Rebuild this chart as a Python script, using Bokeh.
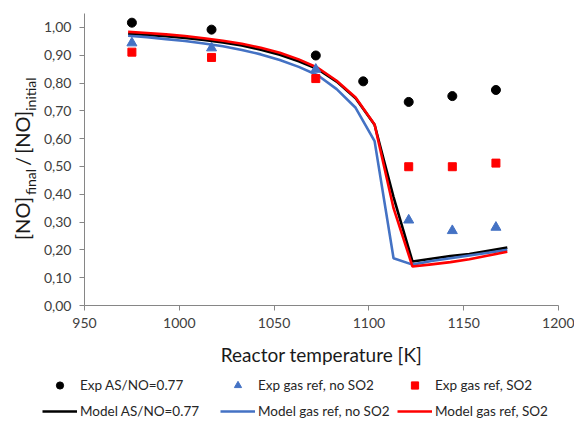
from bokeh.plotting import figure
from bokeh.models import Range1d, FixedTicker, Legend, LegendItem, Div
from bokeh.layouts import column, row
from bokeh.embed import file_html
from bokeh.resources import INLINE

# ---------------- data ----------------
exp_as_T = [975, 1017, 1072, 1097, 1121, 1144, 1167]
exp_as_val = [1.017, 0.992, 0.899, 0.806, 0.732, 0.753, 0.775]

exp_noso2_T = [975, 1017, 1072, 1121, 1144, 1167]
exp_noso2_val = [0.944, 0.926, 0.849, 0.307, 0.269, 0.281]

exp_so2_T = [975, 1017, 1072, 1121, 1144, 1167]
exp_so2_val = [0.911, 0.892, 0.816, 0.499, 0.499, 0.512]

model_T = [973, 983, 993, 1003, 1013, 1023, 1033, 1043, 1053, 1063, 1073,
           1083, 1093, 1103, 1113, 1123, 1133, 1143, 1153, 1163, 1173]
model_as = [0.977, 0.973, 0.968, 0.962, 0.955, 0.946, 0.935, 0.920, 0.902, 0.878, 0.850,
            0.805, 0.745, 0.650, 0.390, 0.158, 0.168, 0.178, 0.185, 0.197, 0.208]
model_noso2 = [0.970, 0.965, 0.958, 0.951, 0.942, 0.932, 0.919, 0.903, 0.883, 0.858, 0.828,
               0.778, 0.711, 0.591, 0.170, 0.147, 0.160, 0.170, 0.180, 0.190, 0.200]
model_so2 = [0.984, 0.980, 0.975, 0.969, 0.961, 0.952, 0.941, 0.927, 0.909, 0.885, 0.855,
             0.808, 0.748, 0.651, 0.350, 0.140, 0.148, 0.156, 0.166, 0.180, 0.193]

y_ticks = [0.0, 0.1, 0.2, 0.3, 0.4, 0.5, 0.6, 0.7, 0.8, 0.9, 1.0]
y_tick_labels = ["0,00", "0,10", "0,20", "0,30", "0,40", "0,50",
                 "0,60", "0,70", "0,80", "0,90", "1,00"]
x_ticks = [950, 1000, 1050, 1100, 1150, 1200]

x_title = "Reactor temperature [K]"
names = ["Exp AS/NO=0.77", "Exp gas ref, no SO2", "Exp gas ref, SO2",
         "Model AS/NO=0.77", "Model gas ref, no SO2", "Model gas ref, SO2"]

BLACK = "#000000"
BLUE = "#4472C4"
RED = "#FF0000"
FONT = "Lato"
AXIS_COL = "#868686"
TXT = "#1a1a1a"

TOTAL_W = 574
TOTAL_H = 421
TOP_H = 370
YLAB_W = 40


def blank_fig(w, h, xr, yr):
    f = figure(width=w, height=h, x_range=xr, y_range=yr,
               x_axis_type=None, y_axis_type=None, output_backend="svg",
               toolbar_location=None, min_border=0)
    f.xgrid.visible = False
    f.ygrid.visible = False
    f.outline_line_color = None
    return f


def add_series(fig):
    r = {}
    r["m_as"] = fig.line(model_T, model_as, line_color=BLACK, line_width=2.6)
    r["m_no"] = fig.line(model_T, model_noso2, line_color=BLUE, line_width=2.6)
    r["m_so"] = fig.line(model_T, model_so2, line_color=RED, line_width=2.6)
    r["e_as"] = fig.scatter(exp_as_T, exp_as_val, marker="circle", size=9,
                            fill_color=BLACK, line_color=BLACK)
    r["e_no"] = fig.scatter(exp_noso2_T, exp_noso2_val, marker="triangle", size=10,
                            fill_color=BLUE, line_color=BLUE)
    r["e_so"] = fig.scatter(exp_so2_T, exp_so2_val, marker="square", size=8,
                            fill_color=RED, line_color=RED)
    return r


# ---------------- main plot ----------------
p = figure(width=TOTAL_W - YLAB_W, height=TOP_H, x_range=Range1d(950, 1200), y_range=Range1d(0, 1.05),
           output_backend="svg", toolbar_location=None,
           min_border_left=41, min_border_right=16, min_border_top=13, min_border_bottom=65)
p.xgrid.visible = False
p.ygrid.visible = False
p.outline_line_color = None
add_series(p)

for ax in (p.xaxis, p.yaxis):
    ax.axis_line_color = AXIS_COL
    ax.major_tick_line_color = AXIS_COL
    ax.minor_tick_line_color = None
    ax.major_tick_in = 0
    ax.major_tick_out = 5
    ax.major_label_text_font = FONT
    ax.major_label_text_font_size = "14px"
    ax.major_label_text_color = "#404040"

p.yaxis.ticker = FixedTicker(ticks=y_ticks)
p.yaxis.major_label_overrides = dict(zip(y_ticks, y_tick_labels))
p.yaxis.major_label_standoff = 8

p.xaxis.ticker = FixedTicker(ticks=x_ticks)
p.xaxis.major_label_standoff = 7
p.xaxis.axis_label = x_title
p.xaxis.axis_label_text_font = FONT
p.xaxis.axis_label_text_font_size = "19px"
p.xaxis.axis_label_text_font_style = "normal"
p.xaxis.axis_label_text_color = TXT
p.xaxis.axis_label_standoff = 12

# ---------------- y-axis title with subscripts (HTML, rotated) ----------------
big = "font-size:20px;"
sub = "font-size:14px;position:relative;top:6px;line-height:0;"
ylabel_html = (
    f'<div style="position:relative;width:{YLAB_W}px;height:{TOP_H}px;">'
    '<div style="position:absolute;left:12px;top:240px;transform:rotate(-90deg);'
    f'transform-origin:0 0;white-space:nowrap;font-family:{FONT};font-size:20px;'
    f'line-height:20px;color:{TXT};">'
    f'<span style="{big}">[NO]</span>'
    f'<span style="{sub}margin-left:2px;">final</span>'
    f'<span style="{big}margin:0 3px;">/</span>'
    f'<span style="{big}">[NO]</span>'
    f'<span style="{sub}">initial</span>'
    '</div></div>'
)
yl = Div(text=ylabel_html, width=YLAB_W, height=TOP_H, margin=0)

# ---------------- legend strip (series drawn out of view, legend only) ----------------
lf = blank_fig(TOTAL_W, TOTAL_H - TOP_H, Range1d(0, 1), Range1d(0, 1))
lr = add_series(lf)

cols = [(("e_as", names[0]), ("m_as", names[3]), 42),
        (("e_no", names[1]), ("m_no", names[4]), 220),
        (("e_so", names[2]), ("m_so", names[5]), 397)]
for top, bottom, lx in cols:
    lg = Legend(items=[LegendItem(label=top[1], renderers=[lr[top[0]]]),
                       LegendItem(label=bottom[1], renderers=[lr[bottom[0]]])],
                location=(lx, 1), orientation="vertical",
                glyph_width=35, glyph_height=18, label_height=18, spacing=8,
                padding=0, margin=0, border_line_color=None, background_fill_alpha=0,
                label_standoff=3, label_text_font=FONT, label_text_font_size="13.5px",
                label_text_color="#262626")
    lf.add_layout(lg)

layout = column(row(yl, p), lf)
open("out.html", "w").write(file_html(layout, INLINE))
